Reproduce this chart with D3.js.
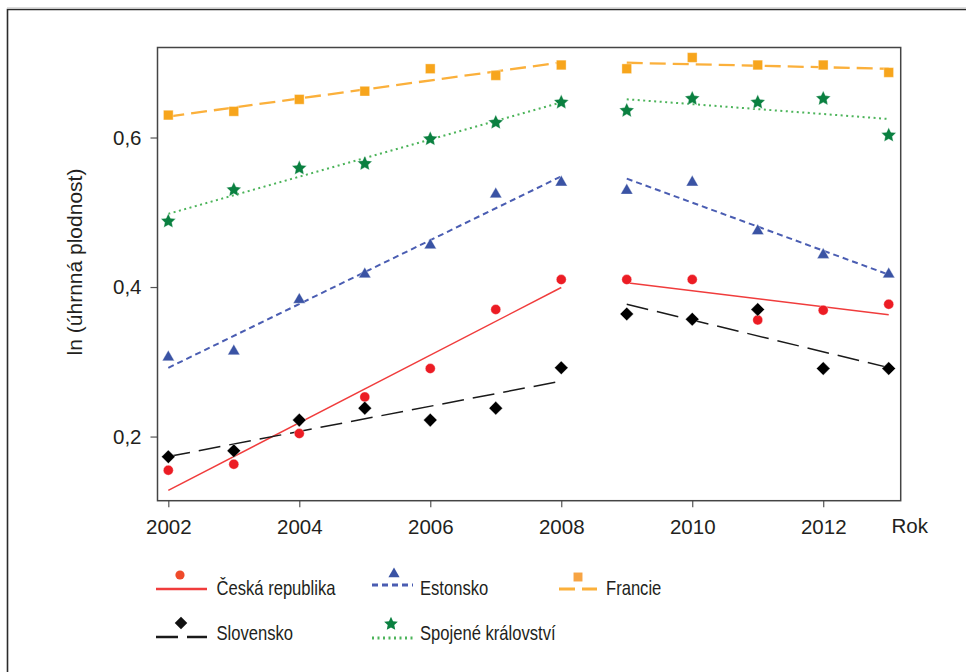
<!DOCTYPE html>
<html>
<head>
<meta charset="utf-8">
<script src="https://cdn.jsdelivr.net/npm/d3@7/dist/d3.min.js"></script>
<style>
  html, body { margin: 0; padding: 0; background: #fff; }
  svg { display: block; }
  .tick text { font-family: "Liberation Sans", Arial, sans-serif; font-size: 20.5px; fill: #231f20; }
</style>
</head>
<body>
<svg id="chart" width="966" height="672"></svg>
<script>
// Years and log total fertility values, split into two periods (2002–2008, 2009–2013)
const years = [2002, 2003, 2004, 2005, 2006, 2007, 2008, 2009, 2010, 2011, 2012, 2013];
const periods = [[2002, 2008], [2009, 2013]];

const ceskaRepublika = [0.155, 0.163, 0.204, 0.253, 0.291, 0.370, 0.410, 0.410, 0.410, 0.356, 0.369, 0.377];
const estonsko       = [0.306, 0.314, 0.383, 0.417, 0.456, 0.524, 0.540, 0.529, 0.540, 0.475, 0.443, 0.417];
const francie        = [0.630, 0.635, 0.651, 0.662, 0.692, 0.683, 0.697, 0.692, 0.707, 0.697, 0.697, 0.687];
const slovensko      = [0.173, 0.181, 0.222, 0.238, 0.222, 0.238, 0.292, 0.364, 0.357, 0.370, 0.291, 0.291];
const spojeneKralovstvi = [0.488, 0.530, 0.559, 0.565, 0.598, 0.620, 0.647, 0.636, 0.652, 0.647, 0.652, 0.603];

const xTicks = [2002, 2004, 2006, 2008, 2010, 2012];
const yTicks = [0.2, 0.4, 0.6];

const series = [
  { name: "Česká republika", values: ceskaRepublika, marker: "circle",
    fill: "#ec1c24", legendFill: "#ef4a2a", line: "#f03c3c", width: 1.5, dash: null },
  { name: "Estonsko", values: estonsko, marker: "triangle",
    fill: "#3a53a4", legendFill: "#3a53a4", line: "#4a5db2", width: 2, dash: "6,4" },
  { name: "Francie", values: francie, marker: "square",
    fill: "#f7a51c", legendFill: "#f7a443", line: "#fbb03b", width: 2.3, dash: "16,7" },
  { name: "Slovensko", values: slovensko, marker: "diamond",
    fill: "#000000", legendFill: "#111", line: "#1a1a1a", width: 1.5, dash: "22,9" },
  { name: "Spojené království", values: spojeneKralovstvi, marker: "star",
    fill: "#0a8040", legendFill: "#0a8040", line: "#4cb45a", width: 2, dash: "2,3.5" }
];

const svg = d3.select("#chart");
const textColor = "#231f20";
const baseFont = '"Liberation Sans", Arial, sans-serif';

// outer frame (runs off the right and bottom edges)
svg.append("path")
  .attr("d", "M7.5,672 V9.5 H966")
  .attr("fill", "none").attr("stroke", "#2b2b2b").attr("stroke-width", 1.6);
svg.append("line").attr("x1", 7).attr("x2", 966).attr("y1", 7.8).attr("y2", 7.8)
  .attr("stroke", "#cfcfcf").attr("stroke-width", 1);

const plot = { left: 157.5, right: 900.7, top: 47.5, bottom: 500.7 };

const x = d3.scaleLinear().domain([2001.835, 2013.183]).range([plot.left, plot.right]);
const y = d3.scaleLinear().domain([0.1142, 0.7204]).range([plot.bottom, plot.top]);

// axes
const xAxis = d3.axisBottom(x).tickValues(xTicks).tickFormat(d3.format("d"))
  .tickSize(6.5).tickPadding(12);
svg.append("g").attr("transform", `translate(0,${plot.bottom})`).call(xAxis)
  .call(g => g.select(".domain").remove())
  .call(g => g.selectAll(".tick line").attr("stroke", "#555").attr("stroke-width", 1.2));

const yAxis = d3.axisLeft(y).tickValues(yTicks)
  .tickFormat(d => d.toFixed(1).replace(".", ","))
  .tickSize(7).tickPadding(9);
svg.append("g").attr("transform", `translate(${plot.left},0)`).call(yAxis)
  .call(g => g.select(".domain").remove())
  .call(g => g.selectAll(".tick line").attr("stroke", "#555").attr("stroke-width", 1.2));

// plot frame
svg.append("rect")
  .attr("x", plot.left).attr("y", plot.top)
  .attr("width", plot.right - plot.left).attr("height", plot.bottom - plot.top)
  .attr("fill", "none").attr("stroke", "#444").attr("stroke-width", 1.5);

// axis titles
svg.append("text")
  .attr("transform", "translate(82,262) rotate(-90)")
  .attr("text-anchor", "middle")
  .attr("font-family", baseFont).attr("font-size", 21).attr("fill", textColor)
  .text("ln (úhrnná plodnost)");

svg.append("text")
  .attr("x", 891.5).attr("y", 533.3)
  .attr("font-family", baseFont).attr("font-size", 20.5).attr("fill", textColor)
  .text("Rok");

// five-pointed star with a fairly wide inner radius
function starPath(outer) {
  const inner = outer * 0.48;
  const pts = d3.range(10).map(i => {
    const r = i % 2 === 0 ? outer : inner;
    const a = -Math.PI / 2 + i * Math.PI / 5;
    return [r * Math.cos(a), r * Math.sin(a)];
  });
  return "M" + pts.map(p => p.join(",")).join("L") + "Z";
}

// marker shapes
function markerPath(kind, scale = 1) {
  const s = scale;
  switch (kind) {
    case "circle":   return d3.symbol(d3.symbolCircle, 78 * s)();
    case "square":   return d3.symbol(d3.symbolSquare, 94 * s)();
    case "triangle": return d3.symbol(d3.symbolTriangle, 64 * s)();
    case "diamond":  return d3.symbol(d3.symbolSquare, 92 * s)();
    case "star":     return starPath(7.8 * Math.sqrt(s));
  }
}
const markerRotate = kind => kind === "diamond" ? 45 : 0;

// least-squares trend for one period
function trend(vals, range) {
  const pts = years.map((yr, i) => [yr, vals[i]]).filter(p => p[0] >= range[0] && p[0] <= range[1]);
  const mx = d3.mean(pts, p => p[0]);
  const my = d3.mean(pts, p => p[1]);
  const slope = d3.sum(pts, p => (p[0] - mx) * (p[1] - my)) / d3.sum(pts, p => (p[0] - mx) ** 2);
  return [range[0], range[1]].map(yr => [yr, my + slope * (yr - mx)]);
}

const line = d3.line().x(d => x(d[0])).y(d => y(d[1]));

// trend lines
series.forEach(s => {
  periods.forEach(p => {
    svg.append("path")
      .attr("d", line(trend(s.values, p)))
      .attr("fill", "none")
      .attr("stroke", s.line)
      .attr("stroke-width", s.width)
      .attr("stroke-dasharray", s.dash);
  });
});

// data markers
series.forEach(s => {
  svg.append("g").selectAll("path")
    .data(years.map((yr, i) => [yr, s.values[i]]))
    .join("path")
    .attr("d", markerPath(s.marker))
    .attr("transform", d => `translate(${x(d[0])},${y(d[1])}) rotate(${markerRotate(s.marker)})`)
    .attr("fill", s.fill)
    .attr("stroke", "#fff").attr("stroke-width", 0.6).attr("stroke-opacity", 0.6);
});

// legend
const legendItems = [
  { s: series[0], x0: 156, x1: 207, ly: 589, mx: 180, my: 575, tx: 216.5, ty: 595 },
  { s: series[1], x0: 372, x1: 413, ly: 585, mx: 394, my: 574, tx: 420,   ty: 595 },
  { s: series[2], x0: 559, x1: 597, ly: 589, mx: 578, my: 577, tx: 606,   ty: 595 },
  { s: series[3], x0: 156, x1: 207, ly: 637, mx: 181, my: 623, tx: 216.5, ty: 640 },
  { s: series[4], x0: 372, x1: 413, ly: 638, mx: 391, my: 624, tx: 420,   ty: 640 }
];
const legend = svg.append("g");
legendItems.forEach(it => {
  const g = legend.append("g");
  g.append("line")
    .attr("x1", it.x0).attr("x2", it.x1).attr("y1", it.ly).attr("y2", it.ly)
    .attr("stroke", it.s.line)
    .attr("stroke-width", it.s.width + 0.8)
    .attr("stroke-dasharray", it.s.dash);
  g.append("path")
    .attr("d", markerPath(it.s.marker, 0.85))
    .attr("transform", `translate(${it.mx},${it.my}) rotate(${markerRotate(it.s.marker)})`)
    .attr("fill", it.s.legendFill);
  // condensed label text
  g.append("text")
    .attr("transform", `translate(${it.tx},${it.ty}) scale(0.81,1)`)
    .attr("font-family", baseFont)
    .attr("font-size", 20.5).attr("fill", textColor)
    .text(it.s.name);
});
</script>
</body>
</html>
